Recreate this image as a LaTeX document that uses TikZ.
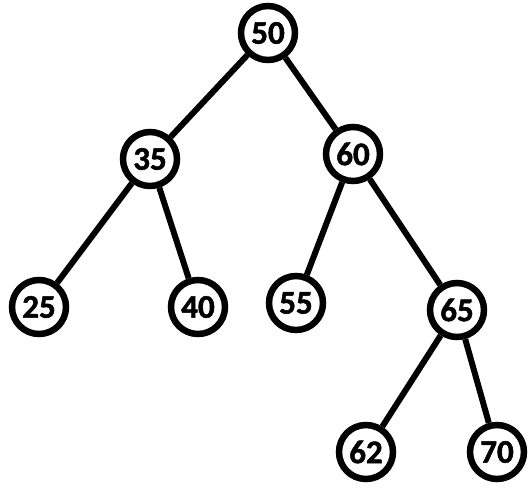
\documentclass[tikz,border=0pt]{standalone}
\usepackage{fontspec}
\setmainfont{Carlito}
\newfontfamily\nodefont{Carlito}[UprightFont=* Bold,FakeBold=1.5]
\begin{document}
\begin{tikzpicture}[x=1pt,y=-1pt,
  tnode/.style={circle,draw=black,line width=6.5pt,fill=white,minimum size=54pt,inner sep=0pt,
    font=\nodefont\fontsize{33}{33}\selectfont},
  tedge/.style={line width=6pt,black}]
\useasboundingbox (0,0) rectangle (530,488);
\fill[white] (0,0) rectangle (530,488);
\node[tnode] (n50) at (268,33) {50};
\node[tnode] (n35) at (150,159) {35};
\node[tnode] (n60) at (353,154) {60};
\node[tnode] (n25) at (39,307) {25};
\node[tnode] (n40) at (198,307) {40};
\node[tnode] (n55) at (296,303) {55};
\node[tnode] (n65) at (457,310) {65};
\node[tnode] (n62) at (366,452) {62};
\node[tnode] (n70) at (497,452) {70};
\draw[tedge] (n50) -- (n35);
\draw[tedge] (n50) -- (n60);
\draw[tedge] (n35) -- (n25);
\draw[tedge] (n35) -- (n40);
\draw[tedge] (n60) -- (n55);
\draw[tedge] (n60) -- (n65);
\draw[tedge] (n65) -- (n62);
\draw[tedge] (n65) -- (n70);
\end{tikzpicture}
\end{document}
